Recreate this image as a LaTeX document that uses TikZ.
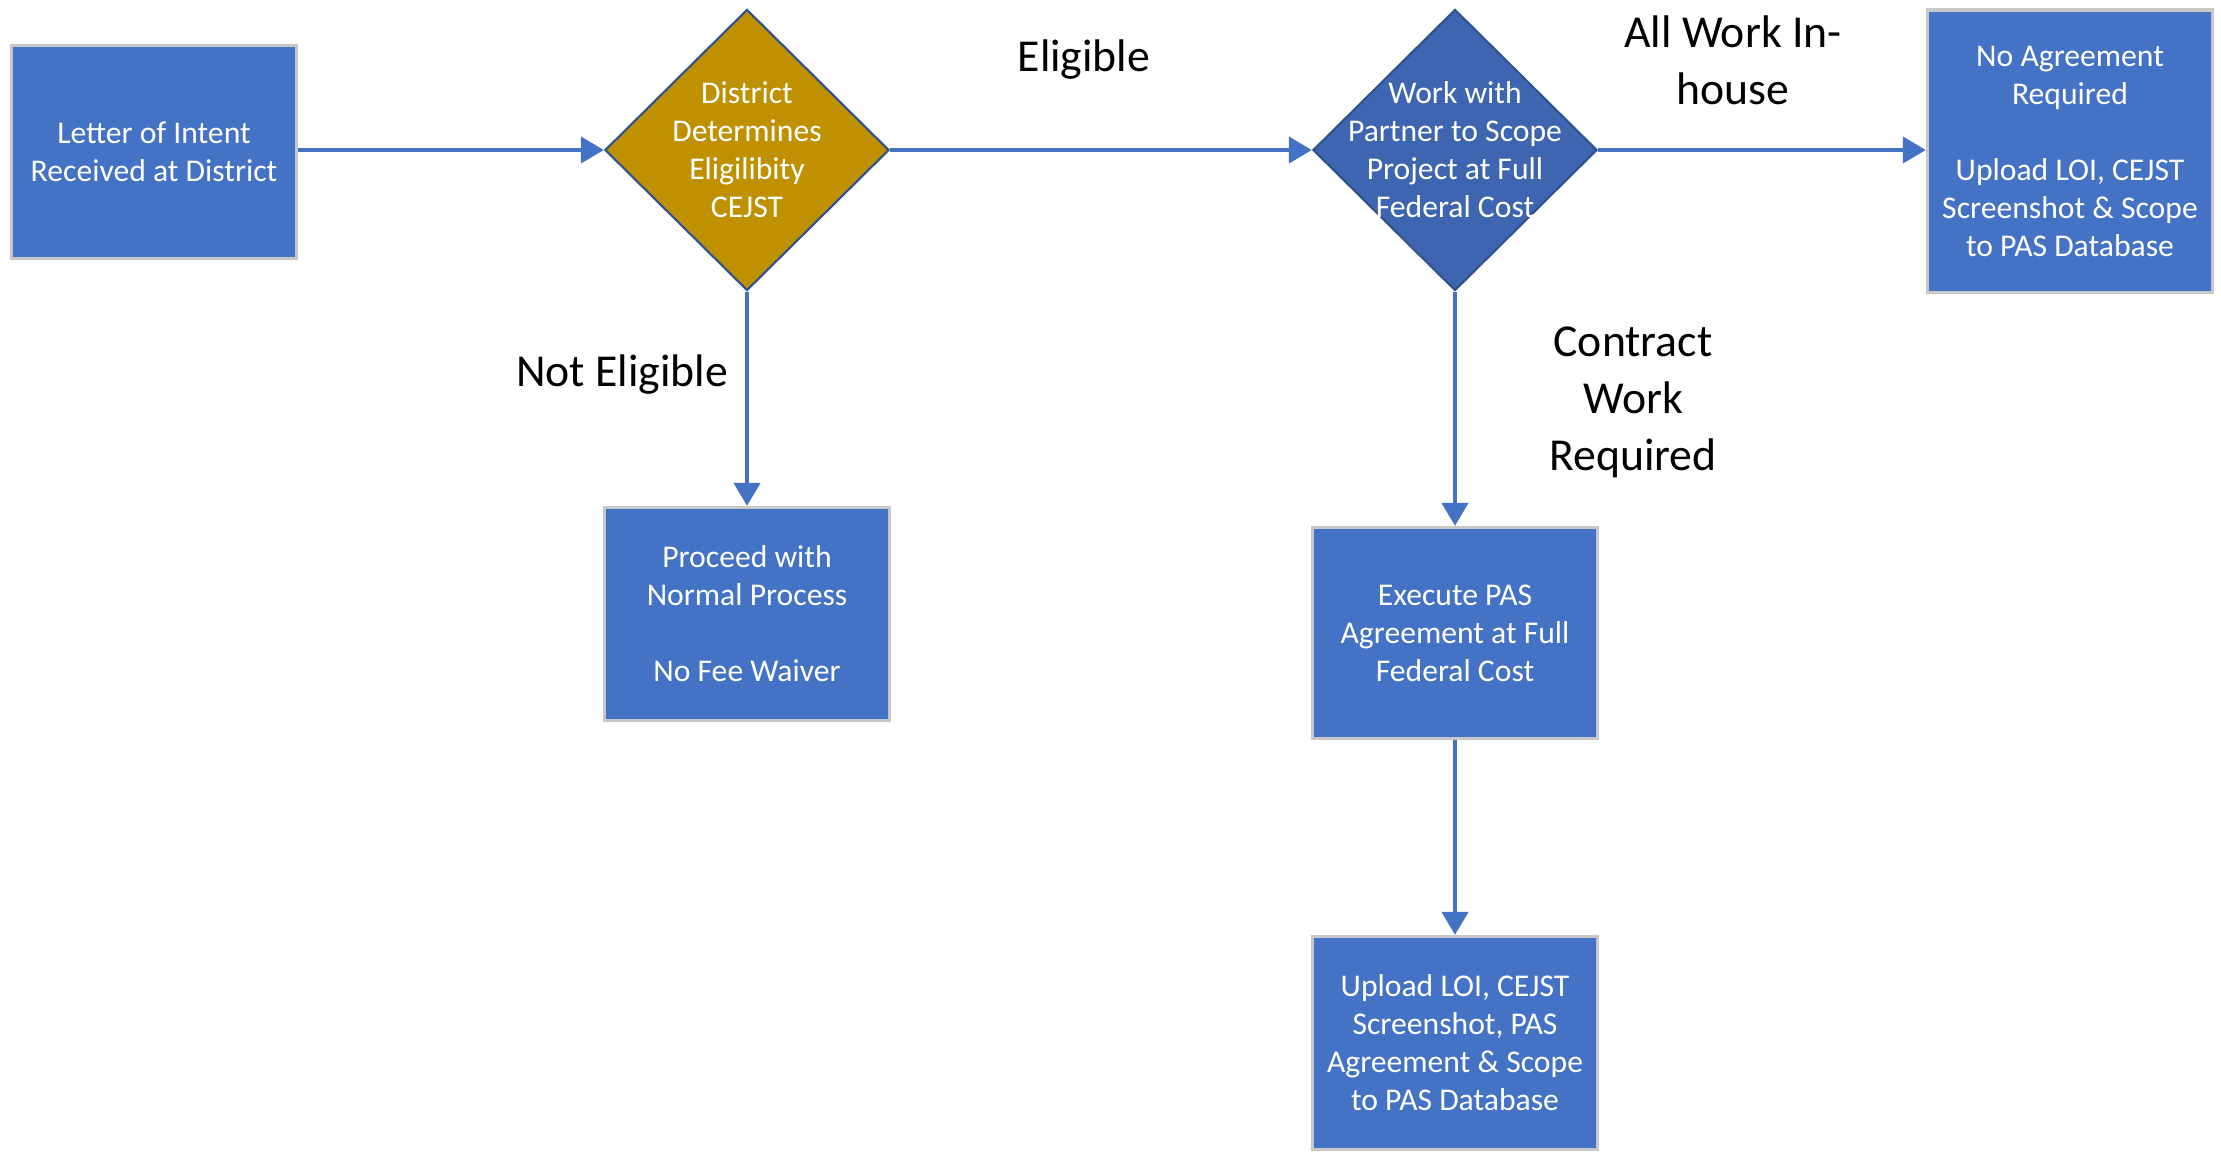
\documentclass[tikz,border=0pt]{standalone}
\usepackage{fontspec}
\setmainfont{Carlito}
\usetikzlibrary{shapes.geometric,arrows.meta}

\definecolor{boxblue}{HTML}{4472C4}
\definecolor{boxgray}{HTML}{C8C8C8}
\definecolor{decgold}{HTML}{BF9000}
\definecolor{decblue}{HTML}{3E65B0}
\definecolor{decline}{HTML}{2F528F}

\begin{document}
\begin{tikzpicture}[
        x=0.01cm, y=-0.01cm,
        stepbox/.style={rectangle, draw=boxgray, line width=0.9pt, fill=boxblue, text=white,
            minimum width=2.85cm, minimum height=2.13cm, inner sep=0pt, align=center,
            font=\fontsize{9}{10.8}\selectfont},
        decision/.style={diamond, draw=decline, line width=0.6pt, minimum width=2.84cm,
            minimum height=2.81cm, inner sep=0pt},
        dectext/.style={text=white, align=center, font=\fontsize{9}{10.8}\selectfont},
        flowlabel/.style={align=center, font=\fontsize{13}{16.2}\selectfont},
        flow/.style={draw=boxblue, line width=1.2pt, -{Triangle[length=2.3mm, width=2.6mm]}}
        ]
        \useasboundingbox (0,0) rectangle (2221,1153);

        % boxes
        \node [stepbox] (loi) at (154,152) {Letter of Intent\\Received at District};
        \node [stepbox, minimum height=2.82cm] (noagr) at (2070,151) {No Agreement\\Required\\[10.8pt]Upload LOI, CEJST\\Screenshot \& Scope\\to PAS Database};
        \node [stepbox] (normal) at (747,614) {Proceed with\\Normal Process\\[10.8pt]No Fee Waiver};
        \node [stepbox, minimum height=2.11cm] (execute) at (1455,633) {Execute PAS\\Agreement at Full\\Federal Cost};
        \node [stepbox] (upload) at (1455,1043) {Upload LOI, CEJST\\Screenshot, PAS\\Agreement \& Scope\\to PAS Database};

        % decisions
        \node [decision, fill=decgold] (elig) at (747,150) {};
        \node [dectext] at (elig) {District\\Determines\\Eligilibity\\CEJST};
        \node [decision, fill=decblue] (scope) at (1455,150) {};
        \node [dectext] at (scope) {Work with\\Partner to Scope\\Project at Full\\Federal Cost};

        % connectors
        \draw [flow] (loi.east |- elig) -- (elig.west);
        \draw [flow] (elig.east) -- (scope.west);
        \draw [flow] (scope.east) -- (scope.east -| noagr.west);
        \draw [flow] (elig.south) -- (normal.north);
        \draw [flow] (scope.south) -- (execute.north);
        \draw [flow] (execute.south) -- (upload.north);

        % labels
        \node [flowlabel] (lbleligible) at (1084,60) {Eligible};
        \node [flowlabel] (lblinhouse) at (1733,60) {All Work In-\\house};
        \node [flowlabel] (lblnot) at (622,375) {Not Eligible};
        \node [flowlabel] (lblcontract) at (1633,402) {Contract\\Work\\Required};
\end{tikzpicture}
\end{document}
